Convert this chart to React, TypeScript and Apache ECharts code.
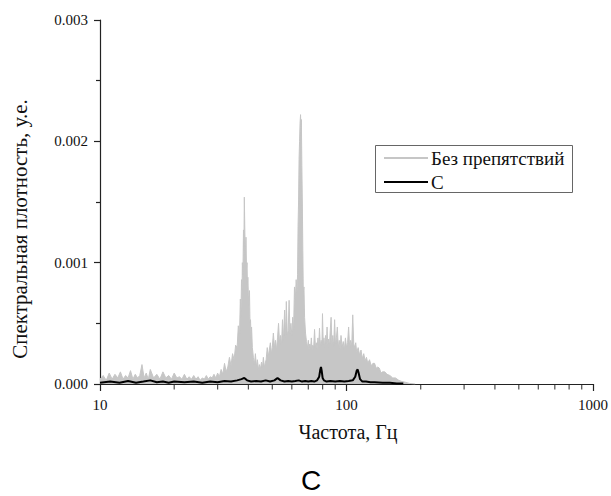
import React, { useEffect, useRef } from "react";
import * as echarts from "echarts";

// Frequencies (Hz) and spectral density of "Без препятствий" (gray)
const grayFreq = [
  10.0, 10.3, 10.6, 10.9, 11.2, 11.5, 11.8, 12.1, 12.4, 12.7, 13.0, 13.3, 13.6, 13.9, 14.2, 14.5, 14.8, 15.1, 15.4, 15.7,
  16.0, 16.5, 17.0, 17.5, 18.0, 18.5, 19.0, 19.5, 20.0, 20.5, 21.0, 21.5, 22.0, 22.5, 23.0, 23.5, 24.0, 24.5, 25.0, 25.5,
  26.0, 26.5, 27.0, 27.5, 28.0, 28.5, 29.0, 29.5, 30.0, 30.5, 31.0, 31.5, 32.0, 32.5, 33.0, 33.5, 34.0, 34.5, 35.0, 35.5,
  36.0, 36.4, 36.8, 37.1, 37.3, 37.5, 37.7, 37.8, 38.0, 38.2, 38.35, 38.5, 38.7, 38.9, 39.1, 39.3, 39.5, 39.65, 39.8, 40.1,
  40.4, 40.6, 40.8, 41.0, 41.2, 41.5, 41.9, 42.3, 42.7, 43.1, 43.5, 43.9, 44.3, 44.7, 45.2, 45.6, 46.0, 46.4, 46.8, 47.2,
  47.7, 48.1, 48.6, 49.1, 49.6, 50.0, 50.5, 51.0, 51.5, 52.0, 52.5, 53.0, 53.5, 54.0, 54.5, 55.0, 55.5, 56.1, 56.6, 57.0,
  57.5, 58.0, 58.5, 59.0, 59.5, 60.0, 60.5, 61.0, 61.5, 62.0, 62.5, 63.0, 63.3, 63.6, 63.9, 64.2, 64.5, 64.8, 65.1, 65.4,
  65.6, 65.9, 66.2, 66.5, 66.8, 67.2, 67.6, 68.2, 68.8, 69.5, 70.0, 70.5, 71.0, 71.5, 72.0, 72.5, 73.0, 73.6, 74.2, 74.8,
  75.4, 76.0, 76.6, 77.1, 77.7, 78.3, 78.9, 79.5, 79.9, 80.5, 81.0, 81.6, 82.2, 82.8, 83.4, 84.0, 84.6, 85.2, 85.8, 86.6,
  87.3, 88.0, 88.7, 89.5, 90.2, 91.0, 91.8, 92.6, 93.4, 94.2, 95.0, 96.0, 97.0, 98.0, 99.0, 100.0, 101.0, 102.0, 103.0, 104.0,
  105.0, 106.0, 107.0, 108.0, 109.0, 110.0, 111.5, 113.0, 114.5, 116.0, 117.5, 119.0, 120.5, 122.0, 124.0, 126.0, 128.0, 130.0, 132.0, 134.0,
  136.0, 138.0, 140.0, 143.0, 146.0, 150.0, 154.0, 158.0, 163.0, 168.0, 173.0, 180.0, 190.0,
];
const grayVal = [
  4e-5, 7e-5, 3e-5, 9e-5, 4e-5, 8e-5, 5e-5, 10e-5, 4e-5, 7e-5, 5e-5, 11e-5, 4e-5, 8e-5, 5e-5, 7e-5, 16e-5, 5e-5, 9e-5, 4e-5,
  12e-5, 5e-5, 8e-5, 4e-5, 10e-5, 5e-5, 7e-5, 4e-5, 9e-5, 5e-5, 6e-5, 4e-5, 8e-5, 4e-5, 6e-5, 4e-5, 7e-5, 4e-5, 6e-5, 3e-5,
  5e-5, 4e-5, 7e-5, 4e-5, 6e-5, 5e-5, 8e-5, 5e-5, 9e-5, 6e-5, 12e-5, 8e-5, 17e-5, 10e-5, 14e-5, 22e-5, 15e-5, 25e-5, 20e-5, 32e-5,
  30e-5, 48e-5, 40e-5, 70e-5, 55e-5, 86e-5, 78e-5, 100e-5, 90e-5, 127e-5, 110e-5, 154e-5, 125e-5, 105e-5, 121e-5, 95e-5, 100e-5, 80e-5, 88e-5, 65e-5,
  77e-5, 50e-5, 53e-5, 38e-5, 47e-5, 30e-5, 22e-5, 16e-5, 25e-5, 14e-5, 20e-5, 12e-5, 16e-5, 12e-5, 18e-5, 13e-5, 22e-5, 14e-5, 17e-5, 20e-5,
  30e-5, 22e-5, 28e-5, 34e-5, 25e-5, 30e-5, 42e-5, 30e-5, 36e-5, 28e-5, 38e-5, 50e-5, 34e-5, 40e-5, 32e-5, 53e-5, 36e-5, 61e-5, 38e-5, 68e-5,
  40e-5, 44e-5, 69e-5, 42e-5, 50e-5, 40e-5, 55e-5, 45e-5, 80e-5, 70e-5, 86e-5, 75e-5, 90e-5, 130e-5, 150e-5, 185e-5, 200e-5, 215e-5, 222e-5, 205e-5,
  218e-5, 180e-5, 150e-5, 110e-5, 75e-5, 80e-5, 55e-5, 42e-5, 35e-5, 30e-5, 36e-5, 28e-5, 33e-5, 29e-5, 38e-5, 28e-5, 32e-5, 30e-5, 45e-5, 30e-5,
  34e-5, 29e-5, 38e-5, 30e-5, 46e-5, 31e-5, 36e-5, 32e-5, 58e-5, 32e-5, 38e-5, 30e-5, 40e-5, 31e-5, 47e-5, 32e-5, 37e-5, 30e-5, 42e-5, 55e-5,
  33e-5, 40e-5, 31e-5, 53e-5, 33e-5, 38e-5, 47e-5, 30e-5, 36e-5, 29e-5, 40e-5, 30e-5, 35e-5, 28e-5, 38e-5, 30e-5, 34e-5, 47e-5, 30e-5, 36e-5,
  31e-5, 57e-5, 33e-5, 30e-5, 34e-5, 26e-5, 30e-5, 24e-5, 28e-5, 21e-5, 25e-5, 19e-5, 22e-5, 17e-5, 20e-5, 15e-5, 17e-5, 17e-5, 13e-5, 14e-5,
  13e-5, 9e-5, 10e-5, 10e-5, 8e-5, 7e-5, 5e-5, 5e-5, 3e-5, 2e-5, 1.5e-5, 0.5e-5, 0,
];

// Frequencies (Hz) and spectral density of "C" (black)
const blackFreq = [
  10, 11, 12, 13, 14, 15, 16, 17, 18, 19, 20, 22, 24, 26, 28, 30, 32, 34, 36, 37.5,
  38.5, 39.5, 41, 43, 45, 47, 49, 51, 52.5, 54, 56, 58, 60, 62, 64, 66, 68, 70, 72, 74,
  76, 77.5, 78.3, 78.8, 79.3, 80, 81, 83, 86, 90, 94, 98, 102, 106, 108.5, 110, 111, 112, 113.5, 116,
  120, 125, 130, 140, 150, 160, 170,
];
const blackVal = [
  1e-5, 2e-5, 1e-5, 2.5e-5, 1e-5, 2e-5, 3e-5, 1.5e-5, 2e-5, 1e-5, 2e-5, 1.5e-5, 2e-5, 1e-5, 2e-5, 1.5e-5, 2.5e-5, 2e-5, 3e-5, 4e-5,
  5e-5, 3e-5, 2e-5, 2.5e-5, 2e-5, 3e-5, 2e-5, 3e-5, 5e-5, 3e-5, 2e-5, 2.5e-5, 2e-5, 2.5e-5, 3e-5, 2e-5, 2.5e-5, 2e-5, 2.5e-5, 2e-5,
  3e-5, 6e-5, 12e-5, 14e-5, 11e-5, 5e-5, 3e-5, 2e-5, 2.5e-5, 2e-5, 2.5e-5, 2e-5, 2.5e-5, 3e-5, 6e-5, 11e-5, 12e-5, 9e-5, 4e-5, 2e-5,
  2e-5, 1.5e-5, 1.5e-5, 1e-5, 1e-5, 0.5e-5, 0.5e-5,
];

// Minor tick positions on the log frequency axis
const minorTickFreqs = [20, 30, 40, 50, 60, 70, 80, 90, 200, 300, 400, 500, 600, 700, 800, 900];

const seriesNames = ["Без препятствий", "C"];
const xAxisName = "Частота, Гц";
const yAxisName = "Спектральная плотность, у.е.";
const caption = "C";

const SERIF = "'Liberation Serif', 'Times New Roman', serif";

export default function App() {
  const ref = useRef<HTMLDivElement>(null);
  useEffect(() => {
    if (!ref.current) return;
    const chart = echarts.init(ref.current, undefined, { renderer: "svg" });
    const gray = grayFreq.map((f, i) => [f, grayVal[i]]);
    const black = blackFreq.map((f, i) => [f, blackVal[i]]);
    chart.setOption({
      animation: false,
      backgroundColor: "#fff",
      grid: { left: 100, right: 16, top: 20, bottom: 112, containLabel: false },
      legend: {
        data: seriesNames,
        orient: "vertical",
        left: 375,
        top: 145,
        itemWidth: 44,
        itemHeight: 14,
        itemGap: 4,
        padding: [3, 6, 3, 8],
        itemStyle: { opacity: 0 },
        textStyle: {
          fontFamily: SERIF,
          fontSize: 19,
          lineHeight: 20,
          color: "#111",
          padding: [0, 0, 0, -2],
        },
      },
      xAxis: {
        type: "log",
        logBase: 10,
        min: 10,
        max: 1000,
        axisLine: { show: true, lineStyle: { color: "#222", width: 1.2 } },
        axisTick: { show: true, inside: false, length: 7, lineStyle: { color: "#222", width: 1.2 } },
        axisLabel: {
          fontFamily: SERIF,
          fontSize: 15,
          color: "#111",
          margin: 13,
          formatter: (v: number) => String(Math.round(v)),
        },
        splitLine: { show: false },
        minorTick: { show: false },
      },
      yAxis: {
        type: "value",
        min: 0,
        max: 0.003,
        interval: 0.001,
        axisLine: { show: true, lineStyle: { color: "#222", width: 1.2 } },
        axisTick: { show: true, inside: false, length: 6, lineStyle: { color: "#222", width: 1.2 } },
        minorTick: { show: true, splitNumber: 2, length: 4, lineStyle: { color: "#222", width: 1.2 } },
        axisLabel: {
          fontFamily: SERIF,
          fontSize: 15,
          color: "#111",
          margin: 12,
          formatter: (v: number) => v.toFixed(3),
        },
        splitLine: { show: false },
      },
      series: [
        {
          name: seriesNames[0],
          type: "line",
          data: gray,
          symbol: "none",
          showSymbol: false,
          lineStyle: { color: "#c6c6c6", width: 1 },
          itemStyle: { color: "#c6c6c6" },
          areaStyle: { color: "#c6c6c6", opacity: 1 },
          z: 2,
        },
        {
          name: seriesNames[1],
          type: "line",
          data: black,
          symbol: "none",
          showSymbol: false,
          lineStyle: { color: "#000", width: 2 },
          itemStyle: { color: "#000" },
          z: 3,
        },
        {
          name: "minorTicks",
          type: "scatter",
          data: minorTickFreqs.map((f) => [f, 0]),
          symbol: "rect",
          symbolSize: [1.2, 5],
          symbolOffset: [0, 3],
          itemStyle: { color: "#222" },
          clip: false,
          silent: true,
          z: 4,
        },
      ],
      graphic: [
        {
          type: "rect",
          shape: { x: 375.5, y: 145.5, width: 197, height: 47 },
          style: { fill: "none", stroke: "#666", lineWidth: 1 },
          z: 10,
        },
        {
          type: "text",
          x: 348,
          y: 432,
          style: {
            text: xAxisName,
            font: "20px 'Liberation Serif', 'Times New Roman', serif",
            fill: "#111",
            align: "center",
            verticalAlign: "middle",
            textAlign: "center",
            textVerticalAlign: "middle",
          },
        },
        {
          type: "text",
          x: 20,
          y: 229,
          rotation: Math.PI / 2,
          style: {
            text: yAxisName,
            font: "21px 'Liberation Serif', 'Times New Roman', serif",
            fill: "#111",
            align: "center",
            verticalAlign: "middle",
            textAlign: "center",
            textVerticalAlign: "middle",
          },
        },
        {
          type: "text",
          x: 311,
          y: 480,
          style: {
            text: caption,
            font: "28px 'Liberation Sans', Arial, sans-serif",
            fill: "#000",
            align: "center",
            verticalAlign: "middle",
            textAlign: "center",
            textVerticalAlign: "middle",
          },
        },
      ],
    });
    return () => chart.dispose();
  }, []);
  return (
    <div
      ref={ref}
      style={{ position: "fixed", left: 0, top: 0, width: 611, height: 496, background: "#fff" }}
    />
  );
}
